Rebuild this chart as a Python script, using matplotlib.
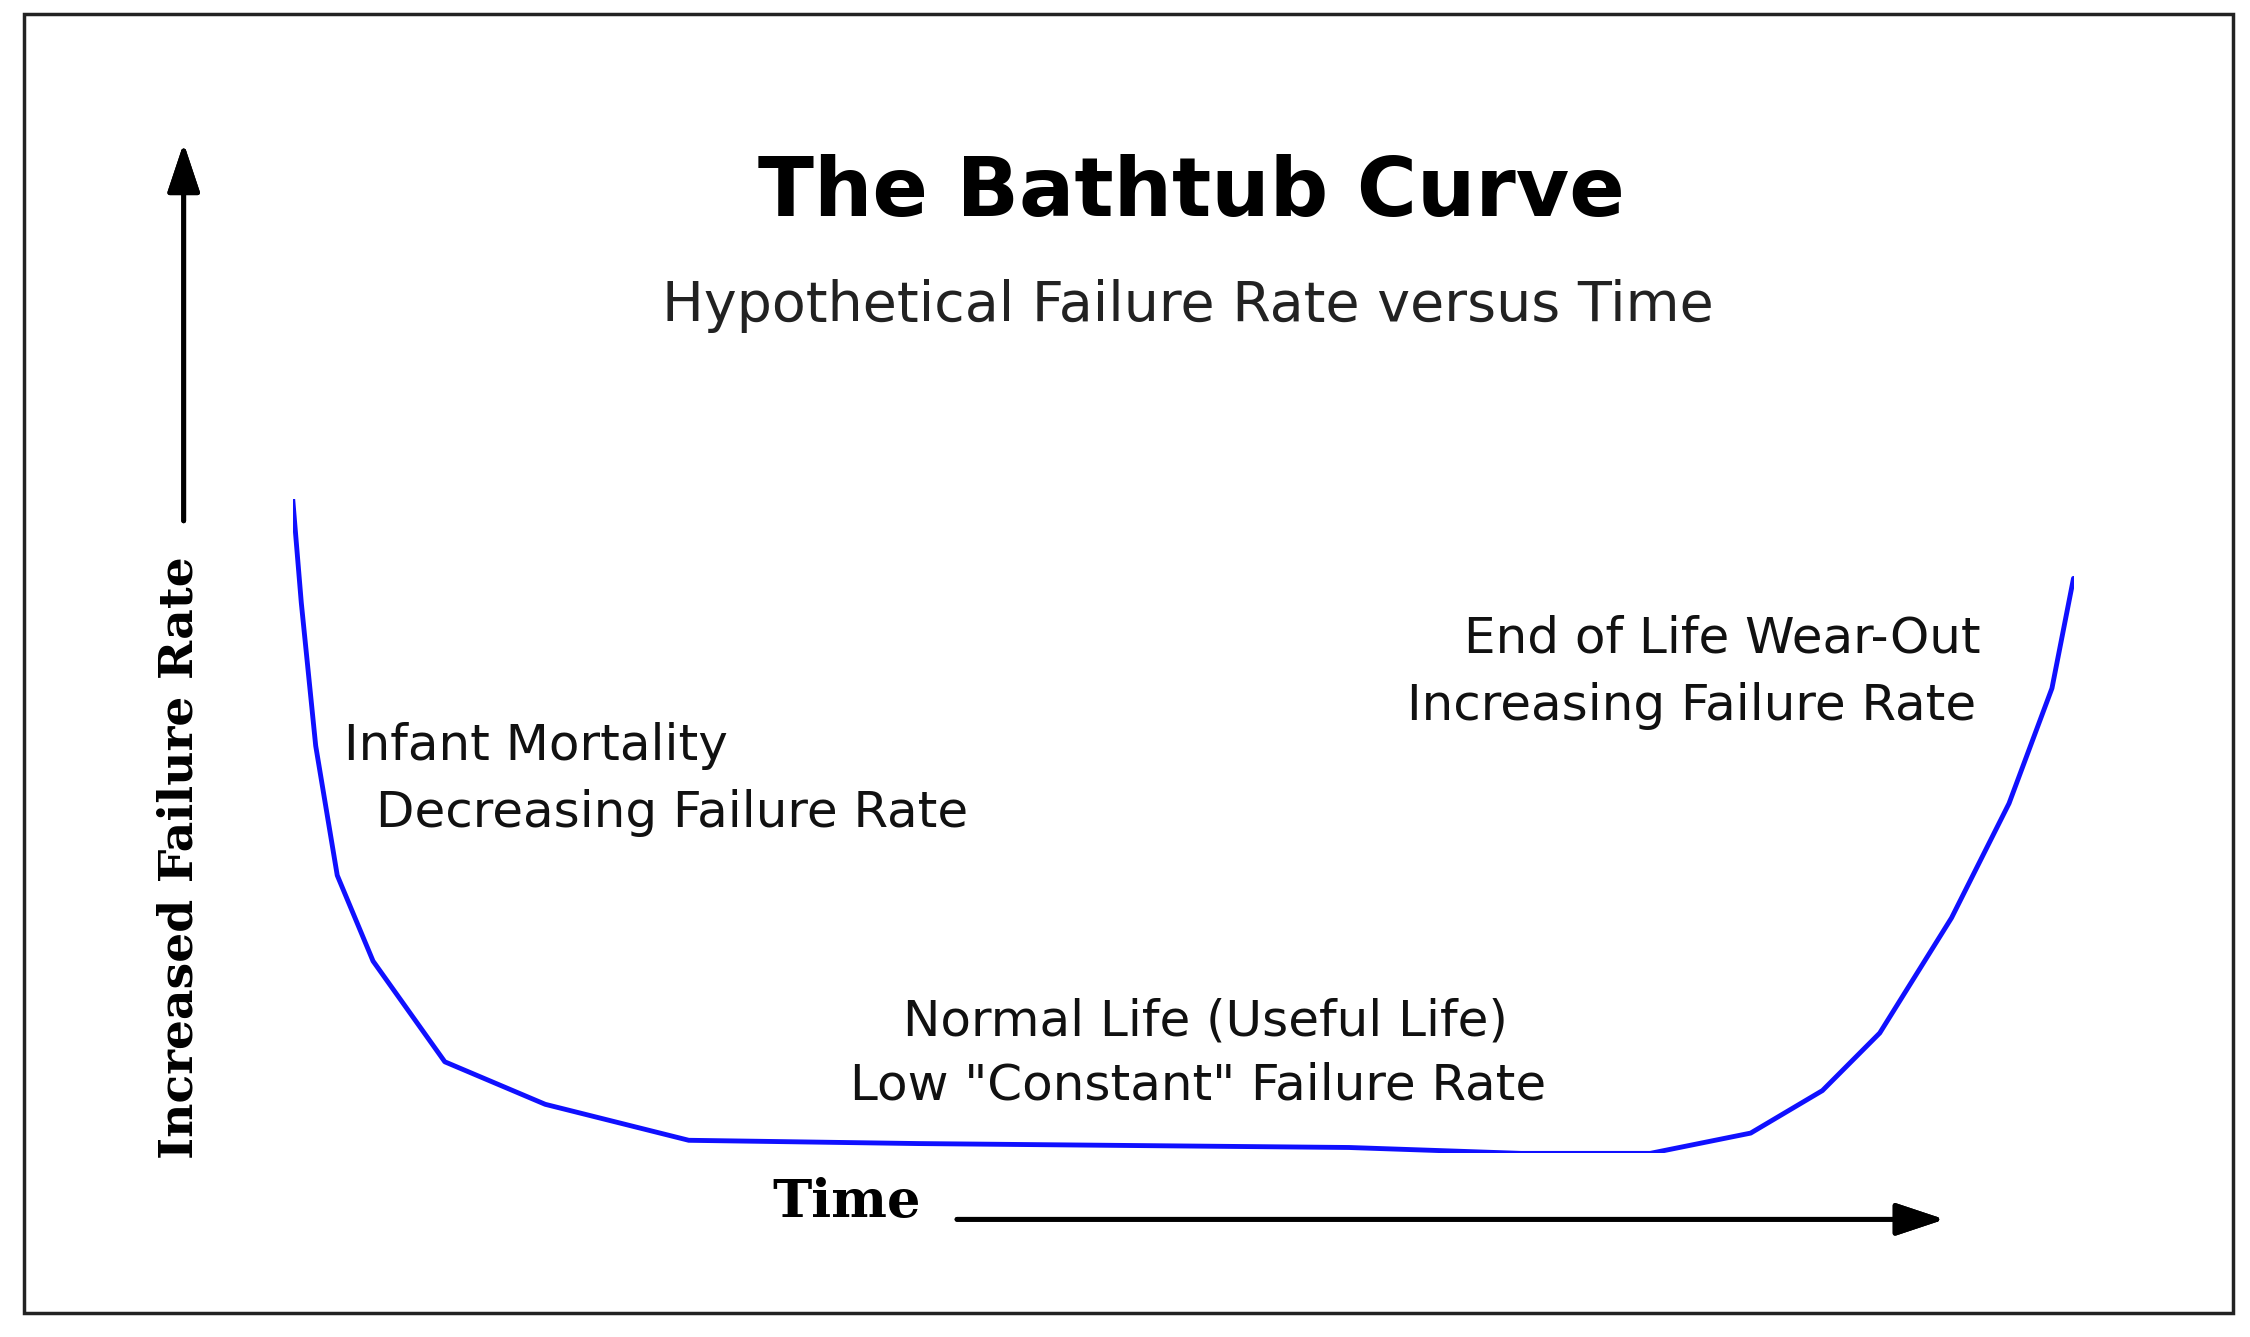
import matplotlib.pyplot as plt
from matplotlib.patches import Rectangle

# bathtub curve (time 0-100, failure rate 0-100)
time = [0, 0.48, 1.29, 2.50, 4.51, 8.54, 14.18, 22.24, 35.13, 59.31,
        68.98, 76.23, 81.87, 85.90, 89.12, 93.15, 96.38, 98.79, 100]
rate = [100, 84.2, 62.3, 42.5, 29.4, 14.0, 7.5, 2.0, 1.5, 0.9,
        0, 0, 3.1, 9.6, 18.4, 36.0, 53.5, 71.1, 87.9]

W, H = 1568.0, 932.0
def fx(x): return x / W
def fy(y): return 1 - y / H

fig = plt.figure(figsize=(22.5, 13.37), dpi=100)
fig.patches.append(Rectangle((fx(17), fy(915)), fx(1556) - fx(17), fy(10) - fy(915),
                             transform=fig.transFigure, fill=False, lw=2.5, ec='#222222'))

ax = fig.add_axes([fx(204), fy(804), fx(1445) - fx(204), fy(348) - fy(804)])
ax.plot(time, rate, color='#1010ff', lw=3.5, solid_joinstyle='round', solid_capstyle='round')
ax.set_xlim(0, 100)
ax.set_ylim(0, 100)
ax.axis('off')

fig.text(fx(830), fy(135), 'The Bathtub Curve', ha='center', va='center',
         fontsize=59, fontweight='bold')
fig.text(fx(828), fy(213), 'Hypothetical Failure Rate versus Time', ha='center',
         va='center', fontsize=40, color='#222222')
lab = dict(va='center', fontsize=36, color='#111111')
fig.text(fx(240), fy(520), 'Infant Mortality', ha='left', **lab)
fig.text(fx(262), fy(567), 'Decreasing Failure Rate', ha='left', **lab)
fig.text(fx(1380), fy(445), 'End of Life Wear-Out', ha='right', **lab)
fig.text(fx(1377), fy(492), 'Increasing Failure Rate', ha='right', **lab)
fig.text(fx(840), fy(712), 'Normal Life (Useful Life)', ha='center', **lab)
fig.text(fx(835), fy(757), 'Low "Constant" Failure Rate', ha='center', **lab)

fig.text(fx(125), fy(598), 'Increased Failure Rate', rotation=90, ha='center', va='center',
         fontsize=34, fontweight='bold', family='DejaVu Serif')
fig.text(fx(590), fy(838), 'Time', ha='center', va='center',
         fontsize=38, fontweight='bold', family='DejaVu Serif')

arrow = dict(arrowstyle='-|>,head_length=3.0,head_width=1.0', lw=3.5, color='black')
fig.add_artist(plt.annotate('', xy=(fx(128), fy(98)), xytext=(fx(128), fy(365)),
                            xycoords='figure fraction', arrowprops=arrow))
fig.add_artist(plt.annotate('', xy=(fx(1357), fy(850)), xytext=(fx(665), fy(850)),
                            xycoords='figure fraction', arrowprops=arrow))

fig.savefig('out.png', dpi=100)
